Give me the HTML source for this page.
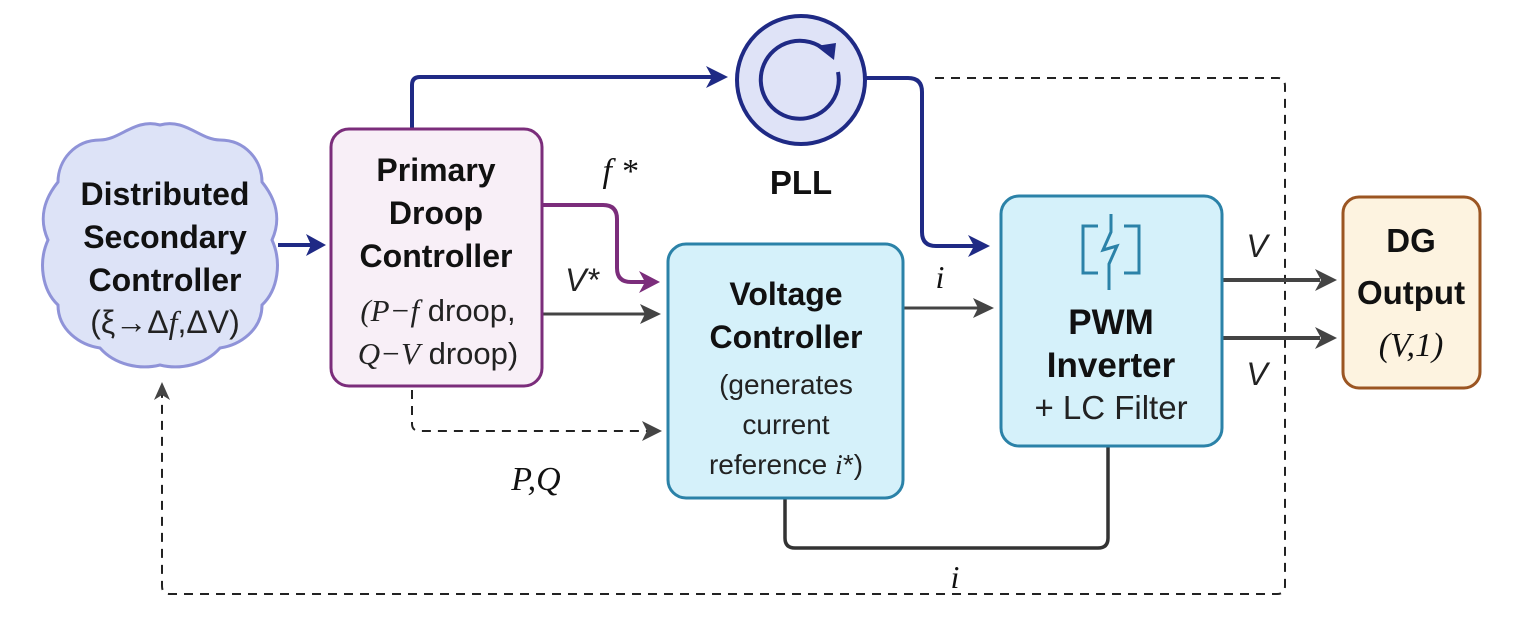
<!DOCTYPE html>
<html><head><meta charset="utf-8"><style>
html,body{margin:0;padding:0;background:#fff;}
svg{display:block;}
.b{font-family:"Liberation Sans",sans-serif;font-weight:bold;fill:#111;text-anchor:middle;}
.n{font-family:"Liberation Sans",sans-serif;fill:#222;text-anchor:middle;}
.m{font-family:"Liberation Serif",serif;font-style:italic;fill:#111;text-anchor:middle;}
</style></head><body>
<svg width="1536" height="624" viewBox="0 0 1536 624" xmlns="http://www.w3.org/2000/svg">
<!-- dashed big loop -->
<path d="M935,78 H1278 Q1285,78 1285,86 V586 Q1285,594 1277,594 H170 Q162,594 162,586 V392" fill="none" stroke="#222" stroke-width="2" stroke-dasharray="9,7"/>
<path d="M162,382 l-8,18 l8,-5 l8,5z" fill="#444"/>
<!-- dashed P,Q -->
<path d="M412,390 V424 Q412,431 420,431 H652" fill="none" stroke="#222" stroke-width="2" stroke-dasharray="9,7"/>
<path d="M662,431 l-20,-10 l5,10 l-5,10z" fill="#444"/>
<path d="M278,245 H312" stroke="#1f2a85" stroke-width="4" fill="none"/>
<path d="M326,245 l-20,-11 l5,11 l-5,11z" fill="#1f2a85"/>
<path d="M412,128 V85 Q412,77 420,77 H712" stroke="#1f2a85" stroke-width="4" fill="none"/>
<path d="M728,77 l-22,-11 l6,11 l-6,11z" fill="#1f2a85"/>
<path d="M866,78 H908 Q922,78 922,92 V232 Q922,246 936,246 H974" stroke="#1f2a85" stroke-width="4" fill="none"/>
<path d="M990,246 l-22,-11 l6,11 l-6,11z" fill="#1f2a85"/>
<path d="M542,205 H603 Q617,205 617,219 V268 Q617,282 631,282 H645" stroke="#7b2d7b" stroke-width="4" fill="none"/>
<path d="M660,282 l-21,-11 l6,11 l-6,11z" fill="#7b2d7b"/>
<path d="M542,314 H645" stroke="#444" stroke-width="3" fill="none"/>
<path d="M661,314 l-21,-10 l5,10 l-5,10z" fill="#444"/>
<path d="M903,308 H978" stroke="#444" stroke-width="3" fill="none"/>
<path d="M994,308 l-21,-10 l5,10 l-5,10z" fill="#444"/>
<path d="M1222,280 H1320" stroke="#444" stroke-width="4" fill="none"/>
<path d="M1337,280 l-22,-11 l6,11 l-6,11z" fill="#444"/>
<path d="M1222,338 H1320" stroke="#444" stroke-width="4" fill="none"/>
<path d="M1337,338 l-22,-11 l6,11 l-6,11z" fill="#444"/>
<path d="M785,498 V538 Q785,548 795,548 H1098 Q1108,548 1108,538 V446" stroke="#333" stroke-width="3.5" fill="none"/>
<!-- cloud -->
<path d="M160,125 C185,118 200,140 220,140 C245,140 262,160 262,182 C275,198 282,218 272,240 C282,262 278,290 262,305 C262,330 240,345 220,348 C205,365 180,370 160,365 C140,370 115,365 100,348 C80,345 58,330 58,305 C42,290 38,262 48,240 C38,218 45,198 58,182 C58,160 75,140 100,140 C120,140 135,118 160,125Z" fill="#dde3f7" stroke="#8f93d8" stroke-width="3"/>
<text class="b" font-size="32" x="165" y="205">Distributed</text>
<text class="b" font-size="32" x="165" y="248">Secondary</text>
<text class="b" font-size="32" x="165" y="291">Controller</text>
<text class="n" font-size="32" x="165" y="333" fill="#111">(ξ→Δ<tspan font-family="Liberation Serif" font-style="italic">f</tspan>,ΔV)</text>
<!-- primary -->
<rect x="331" y="129" width="211" height="257" rx="18" fill="#f8eff7" stroke="#7b2d7b" stroke-width="3"/>
<text class="b" font-size="32" x="436" y="181">Primary</text>
<text class="b" font-size="32" x="436" y="224">Droop</text>
<text class="b" font-size="32" x="436" y="267">Controller</text>
<text class="n" font-size="31" x="438" y="321" fill="#111"><tspan font-family="Liberation Serif" font-style="italic">(P−f</tspan> droop,</text>
<text class="n" font-size="31" x="438" y="364" fill="#111"><tspan font-family="Liberation Serif" font-style="italic">Q−V</tspan> droop)</text>
<!-- PLL -->
<circle cx="801" cy="80" r="64" fill="#dfe3f7" stroke="#1f2a85" stroke-width="4"/>
<path d="M838,72 A39,39 0 1 1 825,50" fill="none" stroke="#1f2a85" stroke-width="4"/>
<path d="M834,60 l-18,-14 l20,-3z" fill="#1f2a85"/>
<text class="b" font-size="33" x="801" y="194">PLL</text>
<!-- voltage controller -->
<rect x="668" y="244" width="235" height="254" rx="18" fill="#d5f1fa" stroke="#2b82a8" stroke-width="3"/>
<text class="b" font-size="32" x="786" y="305">Voltage</text>
<text class="b" font-size="32" x="786" y="348">Controller</text>
<text class="n" font-size="28" x="786" y="394">(generates</text>
<text class="n" font-size="28" x="786" y="434">current</text>
<text class="n" font-size="28" x="786" y="474">reference <tspan font-family="Liberation Serif" font-style="italic">i</tspan>*)</text>
<!-- PWM -->
<rect x="1001" y="196" width="221" height="250" rx="18" fill="#d5f1fa" stroke="#2b82a8" stroke-width="3"/>
<g stroke="#2b82a8" stroke-width="3" fill="none">
<path d="M1098,226 H1083 V273 H1098"/><path d="M1124,226 H1139 V273 H1124"/>
<path d="M1111,214 V232 L1103,250 L1117,246 L1109,264 V290"/>
</g>
<text class="b" font-size="35" x="1111" y="334">PWM</text>
<text class="b" font-size="35" x="1111" y="377">Inverter</text>
<text class="n" font-size="33" x="1111" y="419" fill="#111">+ LC Filter</text>
<!-- DG -->
<rect x="1343" y="197" width="137" height="191" rx="16" fill="#fdf3e0" stroke="#9b5522" stroke-width="3"/>
<text class="b" font-size="33" x="1411" y="252">DG</text>
<text class="b" font-size="33" x="1411" y="304">Output</text>
<text class="m" font-size="34" x="1411" y="356">(V,1)</text>
<!-- labels -->
<text class="m" font-size="34" x="620" y="182">f *</text>
<text class="n" font-size="32" x="582" y="291" font-style="italic" fill="#111">V*</text>
<text class="m" font-size="32" x="940" y="288">i</text>
<text class="m" font-size="34" x="536" y="490">P,Q</text>
<text class="n" font-size="32" x="1257" y="257" font-style="italic" fill="#111">V</text>
<text class="n" font-size="32" x="1257" y="385" font-style="italic" fill="#111">V</text>
<text class="m" font-size="32" x="955" y="588">i</text>
</svg>
</body></html>
